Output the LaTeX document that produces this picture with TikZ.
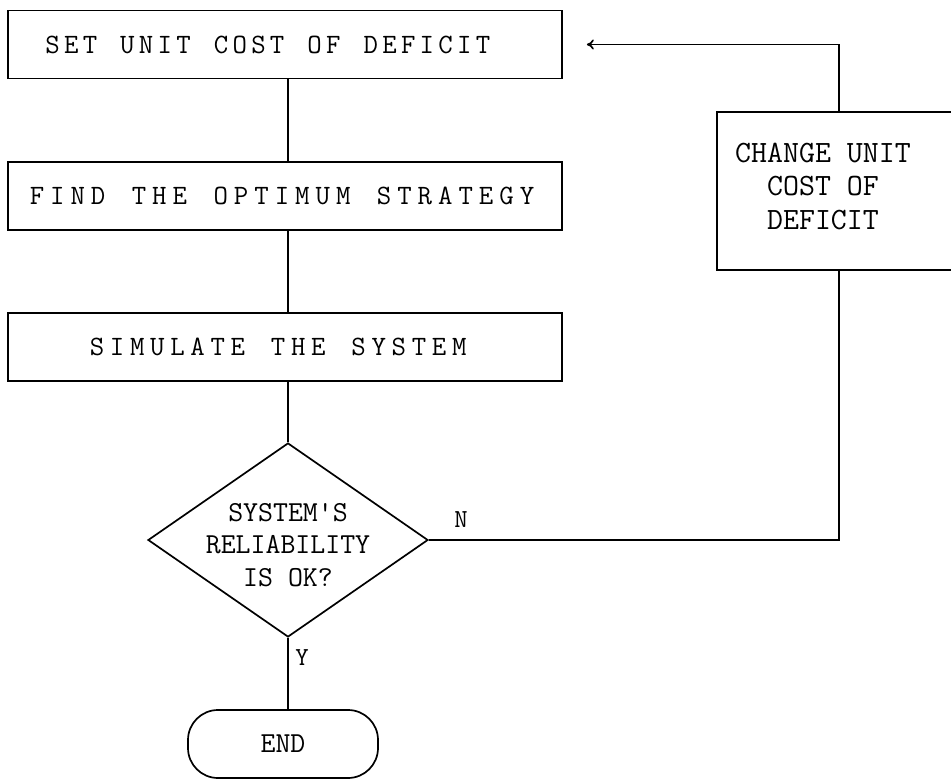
\documentclass[tikz,border=0pt]{standalone}
\usetikzlibrary{shapes.geometric,arrows.meta}

% letter-spaced text: \spacedtext{kern}{text with ~ for spaces}
\makeatletter
\def\sp@stop{\sp@stop}
\newcommand\spacedtext[2]{\def\sp@kern{#1}\sp@loop#2\sp@stop}
\def\sp@loop#1{\ifx\sp@stop#1\else#1\kern\sp@kern\expandafter\sp@loop\fi}
\makeatother

\begin{document}
\begin{tikzpicture}[x=1pt,y=-1pt,line width=1.7pt,
  procbox/.style={draw,rectangle,inner sep=0pt,minimum width=554pt,minimum height=68pt,
    font=\ttfamily\fontsize{28}{32}\selectfont},
  txt/.style={font=\ttfamily\fontsize{29}{32.5}\selectfont,align=center,inner sep=0pt},
  tag/.style={font=\ttfamily\fontsize{26}{30}\selectfont,inner sep=0pt}]
\useasboundingbox (0,0) rectangle (951,779);

% main chain
\node[procbox] (set)  at (285,44.5) {\kern-30pt\spacedtext{4.3pt}{SET~UNIT~COST~OF~DEFICIT}};
\node[procbox] (find) at (285,196)  {\spacedtext{6pt}{FIND~THE~OPTIMUM~STRATEGY}};
\node[procbox] (sim)  at (285,347)  {\kern-8pt\spacedtext{5.7pt}{SIMULATE~THE~SYSTEM}};

% decision
\node[draw,diamond,minimum width=280pt,minimum height=194pt,inner sep=0pt] (dia) at (288,540) {};
\node[txt] (diatext) at (288,545) {SYSTEM'S\\RELIABILITY\\IS OK?};

% terminal
\node[draw,rectangle,rounded corners=30pt,minimum width=190pt,minimum height=68pt,inner sep=0pt,
  font=\ttfamily\fontsize{29}{32}\selectfont] (endn) at (283,744) {END};

% feedback box (runs past the right edge)
\node[draw,rectangle,minimum width=244pt,minimum height=158pt,inner sep=0pt] (chg) at (839,191) {};
\node[txt,font=\ttfamily\fontsize{31}{33.5}\selectfont] (chgtext) at (823,186) {CHANGE UNIT\\COST OF\\DEFICIT};

% branch labels
\node[tag] (nlab) at (461,520) {N};
\node[tag] (ylab) at (302,658) {Y};

% connectors
\draw (set.south -| dia.north) -- (find.north -| dia.north);
\draw (find.south -| dia.north) -- (sim.north -| dia.north);
\draw (sim.south -| dia.north) -- (dia.north);
\draw (dia.south) -- (dia.south |- endn.north);
\draw (dia.east) -| (chg.south);
\draw[-{To[length=7pt,width=10pt]}] (chg.north) |- ([xshift=24pt]set.east);
\end{tikzpicture}
\end{document}
